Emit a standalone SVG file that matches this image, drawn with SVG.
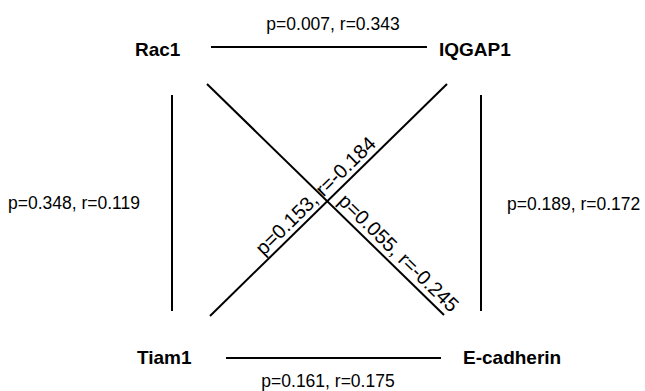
<svg xmlns="http://www.w3.org/2000/svg" width="645" height="391" viewBox="0 0 645 391">
<style>
.n{font-family:"Liberation Sans",Arial,sans-serif;font-weight:bold;font-size:19px;fill:#000}
.l{font-family:"Liberation Sans",Arial,sans-serif;font-size:17.5px;fill:#000}
.d{font-family:"Liberation Sans",Arial,sans-serif;font-size:20px;fill:#000}
.c line{stroke:#000;stroke-width:2;fill:none}
</style>
<rect width="645" height="391" fill="#fff"/>
<g class="c" id="connectors">
<line x1="211" y1="47" x2="427" y2="47"/>
<line x1="226" y1="358" x2="441" y2="358"/>
<line x1="172" y1="95" x2="172" y2="311"/>
<line x1="481" y1="95" x2="481" y2="311"/>
<line x1="207" y1="84" x2="444" y2="315"/>
<line x1="447" y1="84" x2="210" y2="316"/>
</g>
<g id="labels">
<text class="l" x="333" y="30" text-anchor="middle">p=0.007, r=0.343</text>
<text class="l" x="328" y="387" text-anchor="middle">p=0.161, r=0.175</text>
<text class="l" x="8" y="209">p=0.348, r=0.119</text>
<text class="l" x="507" y="210">p=0.189, r=0.172</text>
<text class="d" transform="translate(327,201) rotate(-44.4)" x="-84" y="-5">p=0.153, r=-0.184</text>
<text class="d" transform="translate(327,201) rotate(44.3)" x="8" y="-6">p=0.055, r=-0.245</text>
</g>
<g id="Rac1"><text class="n" x="135" y="56">Rac1</text></g>
<g id="IQGAP1"><text class="n" x="439" y="56">IQGAP1</text></g>
<g id="Tiam1"><text class="n" x="137" y="364">Tiam1</text></g>
<g id="E-cadherin"><text class="n" x="463" y="364">E-cadherin</text></g>
</svg>
